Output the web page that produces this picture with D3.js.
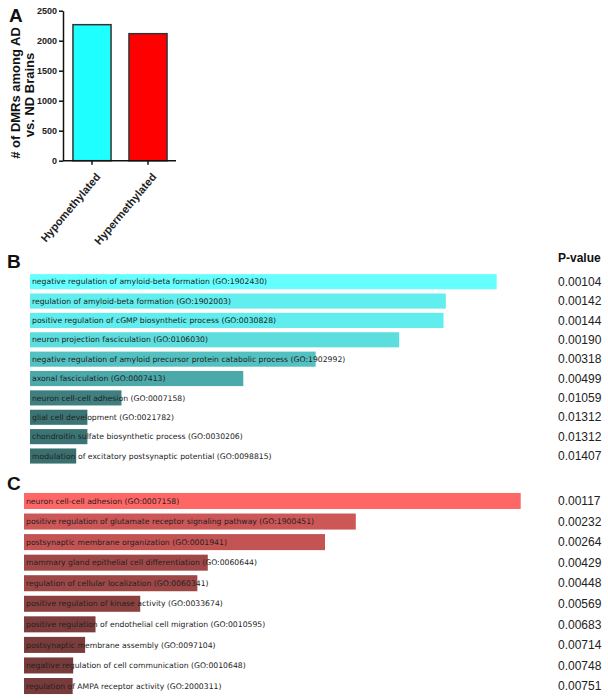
<!DOCTYPE html>
<meta charset="utf-8">
<style>
body { margin: 0; background: #fff; }
.panel-letter { font-family: Arial, "Liberation Sans"; font-weight: bold; font-size: 19px; fill: #111; }
.axis text { font-family: Arial, "Liberation Sans"; font-weight: bold; font-size: 9px; fill: #222; }
.axis path, .axis line { stroke: #111; stroke-width: 1.5px; }
.term { font-family: "DejaVu Sans", Verdana; font-size: 7.7px; fill: #222; }
.pval { font-family: Arial, "Liberation Sans"; font-size: 12px; fill: #222; }
</style>
<body>
<svg width="608" height="700"></svg>
<script src="https://d3js.org/d3.v7.min.js"></script>
<script>
// panel A
var dmrGroups = ["Hypomethylated", "Hypermethylated"];
var dmrCounts = [2267, 2117];
var dmrColors = ["#1effff", "#ff0000"];

// panel B: GO terms for hypomethylated DMRs (relative score, p-value)
var hypoTerms = [
  "negative regulation of amyloid-beta formation (GO:1902430)",
  "regulation of amyloid-beta formation (GO:1902003)",
  "positive regulation of cGMP biosynthetic process (GO:0030828)",
  "neuron projection fasciculation (GO:0106030)",
  "negative regulation of amyloid precursor protein catabolic process (GO:1902992)",
  "axonal fasciculation (GO:0007413)",
  "neuron cell-cell adhesion (GO:0007158)",
  "glial cell development (GO:0021782)",
  "chondroitin sulfate biosynthetic process (GO:0030206)",
  "modulation of excitatory postsynaptic potential (GO:0098815)"
];
var hypoScores = [100, 89.1, 88.6, 79.1, 61.2, 45.7, 19.6, 12.3, 12.3, 9.9];
var hypoPvals = ["0.00104", "0.00142", "0.00144", "0.00190", "0.00318", "0.00499", "0.01059", "0.01312", "0.01312", "0.01407"];

// panel C: GO terms for hypermethylated DMRs
var hyperTerms = [
  "neuron cell-cell adhesion (GO:0007158)",
  "positive regulation of glutamate receptor signaling pathway (GO:1900451)",
  "postsynaptic membrane organization (GO:0001941)",
  "mammary gland epithelial cell differentiation (GO:0060644)",
  "regulation of cellular localization (GO:0060341)",
  "positive regulation of kinase activity (GO:0033674)",
  "positive regulation of endothelial cell migration (GO:0010595)",
  "postsynaptic membrane assembly (GO:0097104)",
  "negative regulation of cell communication (GO:0010648)",
  "regulation of AMPA receptor activity (GO:2000311)"
];
var hyperScores = [100, 66.8, 60.6, 37.0, 34.9, 23.4, 14.4, 12.3, 9.9, 9.8];
var hyperPvals = ["0.00117", "0.00232", "0.00264", "0.00429", "0.00448", "0.00569", "0.00683", "0.00714", "0.00748", "0.00751"];

var svg = d3.select("svg");
svg.append("rect").attr("width", 608).attr("height", 700).attr("fill", "#fff");

// ---------- A: bar chart ----------
var ya = d3.scaleLinear().domain([0, 2500]).range([160.7, 10.7]);
var xa = d3.scaleBand().domain(dmrGroups).range([64, 176]).paddingInner(0.32).paddingOuter(0.16);

svg.append("text").attr("class", "panel-letter").attr("x", 9).attr("y", 22).text("A");

svg.append("g")
    .attr("class", "axis")
    .attr("transform", "translate(63,0)")
    .call(d3.axisLeft(ya).tickValues([0, 500, 1000, 1500, 2000, 2500]).tickFormat(d3.format("d"))
      .tickSize(4).tickSizeOuter(0).tickPadding(2));

svg.selectAll(".dmr")
  .data(dmrGroups)
  .enter().append("rect")
    .attr("class", "dmr")
    .attr("x", function(d) { return xa(d); })
    .attr("y", function(d, i) { return ya(dmrCounts[i]); })
    .attr("width", xa.bandwidth())
    .attr("height", function(d, i) { return ya(0) - ya(dmrCounts[i]); })
    .attr("fill", function(d, i) { return dmrColors[i]; })
    .attr("stroke", "#333")
    .attr("stroke-width", 1.5);

var gx = svg.append("g")
    .attr("class", "axis")
    .attr("transform", "translate(0," + ya(0) + ")")
    .call(d3.axisBottom(xa).tickSize(4).tickSizeOuter(0));
gx.select(".domain").attr("d", "M63,0H176");
gx.selectAll("text")
    .style("font-size", "11px")
    .attr("text-anchor", "end")
    .attr("dy", "0.35em")
    .attr("transform", "translate(6,14) rotate(-50)")
    .attr("x", 0).attr("y", 0);

// two-line rotated y title
var ytitle = svg.append("text")
    .attr("transform", "translate(0,93) rotate(-90)")
    .attr("text-anchor", "middle")
    .style("font-family", "Arial, 'Liberation Sans'")
    .style("font-weight", "bold")
    .style("font-size", "13px")
    .style("fill", "#111");
ytitle.append("tspan").attr("x", 0).attr("y", 20).text("# of DMRs among AD");
ytitle.append("tspan").attr("x", -2).attr("y", 34).text("vs. ND Brains");

// ---------- B and C: enrichment bars ----------
function termPanel(letter, letterY, terms, scores, pvals, x0, x1, r0, r1, dark, bright) {
  var y = d3.scaleBand().domain(terms).range([r0, r1]).paddingInner(0.22).paddingOuter(0.11);
  var x = d3.scaleLinear().domain([0, d3.max(scores)]).range([x0, x1]);
  var color = d3.scaleLinear().domain([d3.min(scores), d3.max(scores)]).range([dark, bright]);

  svg.append("text").attr("class", "panel-letter").attr("x", 7).attr("y", letterY).text(letter);

  var g = svg.append("g");
  g.selectAll("rect")
    .data(terms)
    .enter().append("rect")
      .attr("x", x(0))
      .attr("y", function(d) { return y(d); })
      .attr("width", function(d, i) { return x(scores[i]) - x(0); })
      .attr("height", y.bandwidth())
      .attr("fill", function(d, i) { return color(scores[i]); });

  g.selectAll(".term")
    .data(terms)
    .enter().append("text")
      .attr("class", "term")
      .attr("x", x(0) + 2)
      .attr("y", function(d) { return y(d) + y.bandwidth() / 2; })
      .attr("dy", "0.35em")
      .text(function(d) { return d; });

  g.selectAll(".pval")
    .data(pvals)
    .enter().append("text")
      .attr("class", "pval")
      .attr("x", 558)
      .attr("y", function(d, i) { return y(terms[i]) + y.bandwidth() / 2; })
      .attr("dy", "0.35em")
      .text(function(d) { return d; });
}

svg.append("text")
    .attr("x", 558).attr("y", 262)
    .style("font-family", "Arial, 'Liberation Sans'")
    .style("font-weight", "bold")
    .style("font-size", "12px")
    .style("fill", "#111")
    .text("P-value");

termPanel("B", 268, hypoTerms, hypoScores, hypoPvals, 30, 496.7, 272, 465.7, "#3a7070", "#66ffff");
termPanel("C", 490, hyperTerms, hyperScores, hyperPvals, 24, 520.7, 490.7, 696.3, "#773b3b", "#ff6666");
</script>
</body>
